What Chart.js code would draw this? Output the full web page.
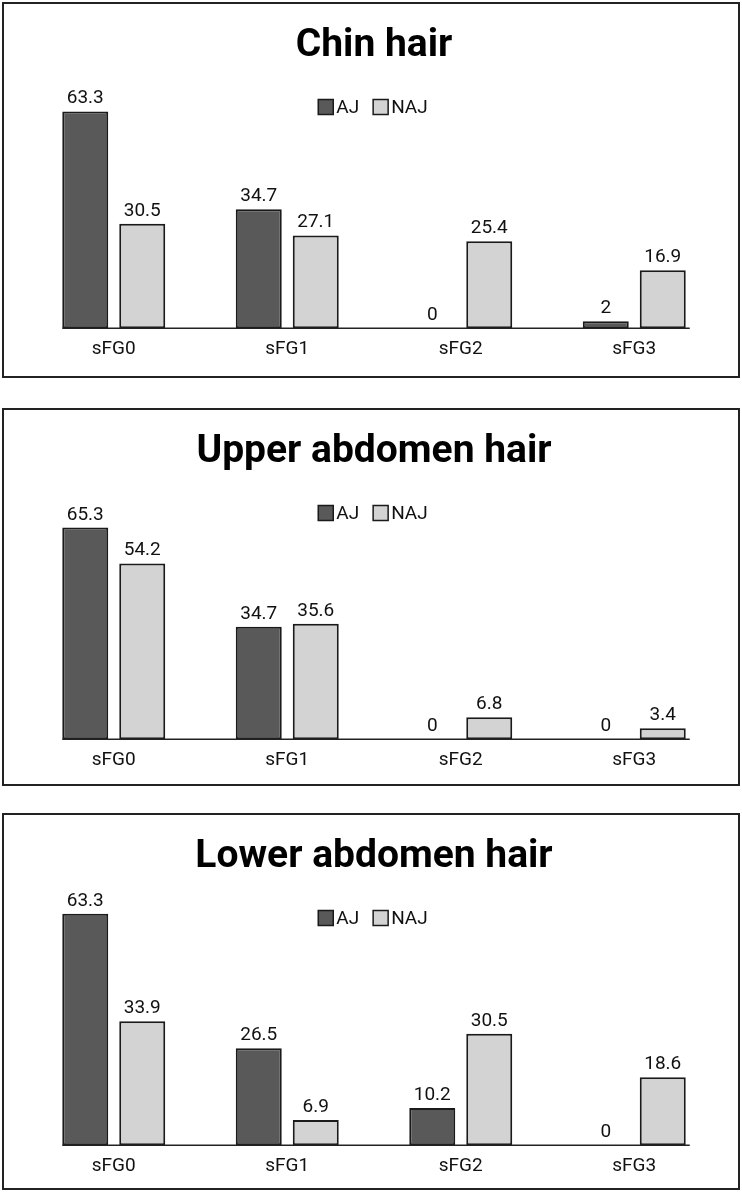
<!DOCTYPE html>
<html>
<head>
<meta charset="utf-8">
<script src="https://cdn.jsdelivr.net/npm/chart.js@4.4.1/dist/chart.umd.min.js"></script>
<style>
  body { margin: 0; background: #fff; }
  .panel { position: absolute; left: 2px; width: 734px; border: 2px solid #222; background: #fff; }
  .panel canvas { display: block; }
</style>
</head>
<body>
<div class="panel" style="top:2px; height:372px;"><canvas id="chinChart" width="734" height="372"></canvas></div>
<div class="panel" style="top:408px; height:374px;"><canvas id="upperChart" width="734" height="374"></canvas></div>
<div class="panel" style="top:813px; height:373px;"><canvas id="lowerChart" width="734" height="373"></canvas></div>
<script>
const categories = ['sFG0', 'sFG1', 'sFG2', 'sFG3'];
const seriesNames = ['AJ', 'NAJ'];

// percentages per panel
const chinAJ = [63.3, 34.7, 0, 2];
const chinNAJ = [30.5, 27.1, 25.4, 16.9];
const upperAJ = [65.3, 34.7, 0, 0];
const upperNAJ = [54.2, 35.6, 6.8, 3.4];
const lowerAJ = [63.3, 26.5, 10.2, 0];
const lowerNAJ = [33.9, 6.9, 30.5, 18.6];

const FONT = "Roboto, 'Open Sans', sans-serif";
const INK = '#111';

// value labels above each bar
const valueLabels = {
  id: 'valueLabels',
  afterDatasetsDraw(chart) {
    const ctx = chart.ctx;
    ctx.save();
    ctx.font = `19px ${FONT}`;
    ctx.fillStyle = INK;
    ctx.textAlign = 'center';
    ctx.textBaseline = 'alphabetic';
    chart.data.datasets.forEach((ds, i) => {
      chart.getDatasetMeta(i).data.forEach((bar, j) => {
        ctx.fillText(String(ds.data[j]), bar.x, bar.y - 8);
      });
    });
    ctx.restore();
  }
};

// baseline only under the bars, not across the whole plot
const baseLine = {
  id: 'baseLine',
  afterDatasetsDraw(chart) {
    const first = chart.getDatasetMeta(0).data[0];
    const metaLast = chart.getDatasetMeta(chart.data.datasets.length - 1).data;
    const last = metaLast[metaLast.length - 1];
    const y = chart.scales.y.getPixelForValue(0);
    const ctx = chart.ctx;
    ctx.save();
    ctx.strokeStyle = '#222';
    ctx.lineWidth = 1.5;
    ctx.beginPath();
    ctx.moveTo(first.x - first.width / 2, y);
    ctx.lineTo(last.x + last.width / 2 + 4, y);
    ctx.stroke();
    ctx.restore();
  }
};

// compact horizontal legend floating over the plot, under the title
const floatLegend = {
  id: 'floatLegend',
  afterDraw(chart, args, opts) {
    const ctx = chart.ctx;
    const box = 15, gap = 3, itemGap = 14;
    ctx.save();
    ctx.font = `19px ${FONT}`;
    const items = chart.data.datasets.map(ds => ({
      text: ds.label,
      fill: ds.backgroundColor,
      w: box + gap + ctx.measureText(ds.label).width
    }));
    const total = items.reduce((s, it) => s + it.w, 0) + itemGap * (items.length - 1);
    let x = chart.width / 2 - total / 2 + 2;
    const cy = opts.y;
    ctx.textBaseline = 'middle';
    ctx.textAlign = 'left';
    items.forEach(it => {
      ctx.fillStyle = it.fill;
      ctx.fillRect(x, cy - box / 2, box, box);
      ctx.strokeStyle = '#1a1a1a';
      ctx.lineWidth = 1.5;
      ctx.strokeRect(x, cy - box / 2, box, box);
      ctx.fillStyle = INK;
      ctx.fillText(it.text, x + box + gap, cy + 1);
      x += it.w + itemGap;
    });
    ctx.restore();
  }
};

function makeChart(canvasId, title, ajValues, najValues, yMax, padBottom) {
  return new Chart(document.getElementById(canvasId), {
    type: 'bar',
    data: {
      labels: categories,
      datasets: [
        { label: seriesNames[0], data: ajValues, backgroundColor: '#595959' },
        { label: seriesNames[1], data: najValues, backgroundColor: '#d3d3d3' }
      ]
    },
    options: {
      responsive: false,
      animation: false,
      categoryPercentage: 0.657,
      barPercentage: 0.807,
      datasets: {
        bar: { borderColor: '#1a1a1a', borderWidth: 2, borderSkipped: false }
      },
      layout: { padding: { left: 23, right: 17, top: 0, bottom: padBottom } },
      scales: {
        x: {
          grid: { display: false, drawTicks: false },
          border: { display: false },
          ticks: { color: INK, padding: 10, font: { family: FONT, size: 19 } }
        },
        y: { display: false, min: 0, max: yMax }
      },
      plugins: {
        title: {
          display: true,
          text: title,
          color: '#000',
          font: { family: FONT, size: 39, weight: 'bold' },
          padding: { top: 19, bottom: 18 }
        },
        legend: { display: false },
        floatLegend: { y: 103 },
        tooltip: { enabled: false }
      }
    },
    plugins: [baseLine, valueLabels, floatLegend]
  });
}

makeChart('chinChart', 'Chin hair', chinAJ, chinNAJ, 70.2, 5);
makeChart('upperChart', 'Upper abdomen hair', upperAJ, upperNAJ, 75.7, 2);
makeChart('lowerChart', 'Lower abdomen hair', lowerAJ, lowerNAJ, 67.4, 0);
</script>
</body>
</html>
